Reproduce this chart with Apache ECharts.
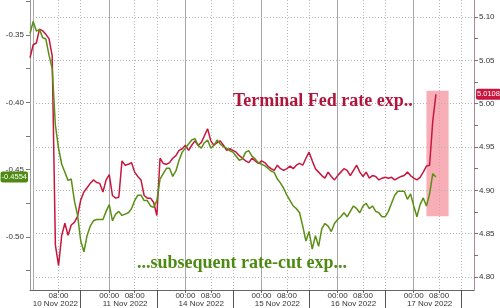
<!DOCTYPE html>
<html><head><meta charset="utf-8">
<script src="https://cdn.jsdelivr.net/npm/echarts@6/dist/echarts.min.js"></script>
<style>html,body{margin:0;padding:0;background:#fff}#c{width:500px;height:308px}</style>
</head><body><div id="c"></div>
<script>
// Trading days shown (weekend removed); hourly index starts 10 Nov 00:00 minus 1h
const days = ['10 Nov 2022','11 Nov 2022','14 Nov 2022','15 Nov 2022','16 Nov 2022','17 Nov 2022'];
const firstHour = -1, lastHour = 139;
const timeTickHours = [0, 8];
const sessionBreakHour = 15;
const dateLabelHour = [7, 5, 5, 5, 5, 5];

// Terminal Fed rate expectation (right axis), hourly from 9 Nov 23:00
const fedTerminal = [
5.053,5.068,5.070,5.086,5.084,5.080,5.075,5.055,4.837,4.813,
4.848,4.862,4.848,4.860,4.863,4.870,4.889,4.898,4.903,4.908,
4.912,4.909,4.908,4.898,4.912,4.918,4.894,4.891,4.892,4.934,
4.929,4.930,4.932,4.921,4.916,4.912,4.894,4.891,4.891,4.886,
4.871,4.937,4.931,4.930,4.932,4.937,4.940,4.946,4.948,4.952,
4.946,4.952,4.957,4.952,4.955,4.963,4.971,4.957,4.952,4.955,
4.957,4.952,4.946,4.948,4.946,4.944,4.940,4.937,4.934,4.932,
4.937,4.934,4.931,4.934,4.932,4.928,4.925,4.923,4.929,4.925,
4.923,4.925,4.928,4.925,4.929,4.931,4.929,4.937,4.944,4.934,
4.925,4.921,4.917,4.914,4.921,4.916,4.912,4.917,4.921,4.925,
4.923,4.917,4.923,4.929,4.921,4.916,4.921,4.914,4.917,4.916,
4.912,4.914,4.915,4.914,4.915,4.912,4.914,4.916,4.917,4.921,
4.917,4.914,4.912,4.915,4.921,4.928,4.929,4.980,5.0108
];
// Subsequent rate-cut expectation (left axis)
const rateCut = [
-0.349,-0.340,-0.347,-0.346,-0.352,-0.353,-0.365,-0.375,-0.417,-0.434,
-0.446,-0.452,-0.458,-0.457,-0.473,-0.484,-0.503,-0.511,-0.499,-0.492,
-0.488,-0.487,-0.487,-0.487,-0.481,-0.476,-0.488,-0.483,-0.481,-0.484,
-0.483,-0.482,-0.479,-0.473,-0.469,-0.469,-0.473,-0.473,-0.477,-0.478,
-0.473,-0.457,-0.453,-0.449,-0.449,-0.455,-0.451,-0.443,-0.437,-0.434,
-0.431,-0.428,-0.427,-0.432,-0.434,-0.430,-0.428,-0.434,-0.432,-0.428,
-0.431,-0.433,-0.434,-0.436,-0.437,-0.440,-0.443,-0.442,-0.437,-0.436,
-0.440,-0.442,-0.445,-0.446,-0.447,-0.449,-0.451,-0.452,-0.457,-0.460,
-0.464,-0.469,-0.473,-0.477,-0.479,-0.482,-0.492,-0.503,-0.496,-0.509,
-0.499,-0.507,-0.494,-0.490,-0.492,-0.496,-0.490,-0.487,-0.485,-0.482,
-0.485,-0.481,-0.477,-0.479,-0.482,-0.477,-0.475,-0.479,-0.477,-0.481,
-0.482,-0.485,-0.485,-0.481,-0.475,-0.469,-0.466,-0.466,-0.466,-0.472,
-0.468,-0.477,-0.485,-0.476,-0.471,-0.477,-0.468,-0.453,-0.4554
];

const leftLabels = [-0.50, -0.45, -0.40, -0.35];
const leftTicks = [-0.525, -0.50, -0.475, -0.45, -0.425, -0.40, -0.375, -0.35, -0.325];
const rightLabels = [4.80, 4.85, 4.90, 4.95, 5.00, 5.05, 5.10];
const rightTicks = [4.80, 4.825, 4.85, 4.875, 4.90, 4.925, 4.95, 4.975, 5.00, 5.025, 5.05, 5.075, 5.10];
const highlightFrom = '17 Nov 2022 04:00', highlightTo = '17 Nov 2022 11:00';
const highlightLow = 4.870, highlightHigh = 5.015;

const pad = n => (n < 10 ? '0' : '') + n;
const categories = [];
const hourOf = [], dayOf = [];
for (let h = firstHour; h <= lastHour; h++) {
  const d = Math.floor(h / 24), hr = ((h % 24) + 24) % 24;
  hourOf.push(hr); dayOf.push(d);
  categories.push((d < 0 ? '09 Nov 2022' : days[d]) + ' ' + pad(hr) + ':00');
}

const RED = '#c8163f', GREEN = '#5a8f14';
const chart = echarts.init(document.getElementById('c'), null, {renderer: 'canvas'});
const labelFont = {fontFamily: 'Liberation Sans', fontSize: 8, color: '#333'};
const badge = (bg) => ({show: true, distance: 2, formatter: (p) => Number(p.value).toFixed(4),
  backgroundColor: bg, color: '#fff', fontFamily: 'Liberation Sans', fontSize: 7.5,
  padding: [2, 1, 1, 1], borderRadius: 2, opacity: 1});

chart.setOption({
  animation: false,
  backgroundColor: '#fff',
  grid: {left: 30, right: 26, top: 0, bottom: 18, containLabel: false},
  xAxis: [{
    type: 'category', data: categories, boundaryGap: false, position: 'bottom',
    axisLine: {show: true, lineStyle: {color: '#666', width: 1}},
    axisTick: {show: true, length: 3, lineStyle: {color: '#666'},
      interval: (i) => timeTickHours.includes(hourOf[i]) && i > 1},
    axisLabel: Object.assign({show: true, margin: 2,
      interval: (i) => timeTickHours.includes(hourOf[i]) && i > 1,
      formatter: (v) => v.slice(-5)}, labelFont),
    splitLine: {show: true, interval: (i) => hourOf[i] === 0,
      lineStyle: {color: '#a8a8a8', width: 1, type: 'solid'}}
  }, {
    type: 'category', data: categories, boundaryGap: false, position: 'bottom',
    axisLine: {show: false},
    axisTick: {show: true, length: 18, lineStyle: {color: '#555'},
      interval: (i) => hourOf[i] === sessionBreakHour},
    axisLabel: Object.assign({show: true, margin: 10,
      interval: (i) => dayOf[i] >= 0 && hourOf[i] === dateLabelHour[dayOf[i]],
      formatter: (v) => v.slice(0, 11)}, labelFont),
    splitLine: {show: true, interval: (i) => hourOf[i] === 8 || hourOf[i] === sessionBreakHour,
      lineStyle: {color: '#b8b8b8', width: 1, type: [1, 2]}}
  }],
  yAxis: [{
    type: 'value', position: 'left', min: -0.5394, max: -0.324,
    axisLine: {show: true, lineStyle: {color: '#999'}},
    axisTick: {show: true, length: 4, customValues: leftTicks, lineStyle: {color: '#777'}},
    axisLabel: Object.assign({show: true, margin: 6, customValues: leftLabels,
      formatter: (v) => v.toFixed(2)}, labelFont),
    splitLine: {show: false}
  }, {
    type: 'value', position: 'right', min: 4.785, max: 5.1196,
    axisLine: {show: true, lineStyle: {color: '#b08a96'}},
    axisTick: {show: true, length: 4, customValues: rightTicks, lineStyle: {color: '#8a6a74'}},
    axisLabel: Object.assign({show: true, margin: 5, customValues: rightLabels,
      formatter: (v) => v.toFixed(2)}, labelFont),
    splitLine: {show: false}
  }],
  series: [{
    name: 'Terminal Fed rate', type: 'line', xAxisIndex: 0, yAxisIndex: 1, clip: false,
    data: fedTerminal, showSymbol: false, symbol: 'none', z: 3,
    lineStyle: {color: RED, width: 1.5},
    markArea: {silent: true, z: 1,
      itemStyle: {color: 'rgba(244,140,152,0.7)'},
      data: [[{xAxis: highlightFrom, yAxis: highlightHigh}, {xAxis: highlightTo, yAxis: highlightLow}]]},
    markLine: {silent: true, symbol: ['none', 'none'], z: 1, precision: 4,
      data: rightLabels.map(v => ({yAxis: v, lineStyle: {color: '#b4b4b4', width: 1, type: [1, 2]}, label: {show: false}}))}
  }, {
    name: 'Subsequent rate-cut', type: 'line', xAxisIndex: 0, yAxisIndex: 0, clip: false,
    data: rateCut, showSymbol: false, symbol: 'none', z: 3,
    lineStyle: {color: GREEN, width: 1.5},
    markLine: {silent: true, symbol: ['none', 'none'], z: 6, precision: 4,
      data: [{yAxis: rateCut[rateCut.length - 1], lineStyle: {color: 'rgba(0,0,0,0)', width: 0},
        label: Object.assign({position: 'start'}, badge('#4f8a12'))}]}
  }, {
    name: 'Terminal Fed last', type: 'line', xAxisIndex: 0, yAxisIndex: 1, clip: false,
    data: [], silent: true, z: 6,
    markLine: {silent: true, symbol: ['none', 'none'], z: 6, precision: 4,
      data: [{yAxis: fedTerminal[fedTerminal.length - 1], lineStyle: {color: 'rgba(0,0,0,0)', width: 0},
        label: Object.assign({position: 'end'}, badge(RED))}]}
  }],
  graphic: [{
    type: 'text', x: 233, y: 101, z: 20,
    style: {text: 'Terminal Fed rate exp..', font: 'bold 18px "Liberation Serif"', fill: '#b0163c',
      textAlign: 'left', textVerticalAlign: 'middle'}
  }, {
    type: 'text', x: 137, y: 263, z: 20,
    style: {text: '...subsequent rate-cut exp...', font: 'bold 18px "Liberation Serif"', fill: '#4d8a12',
      textAlign: 'left', textVerticalAlign: 'middle'}
  }]
});
</script></body></html>
